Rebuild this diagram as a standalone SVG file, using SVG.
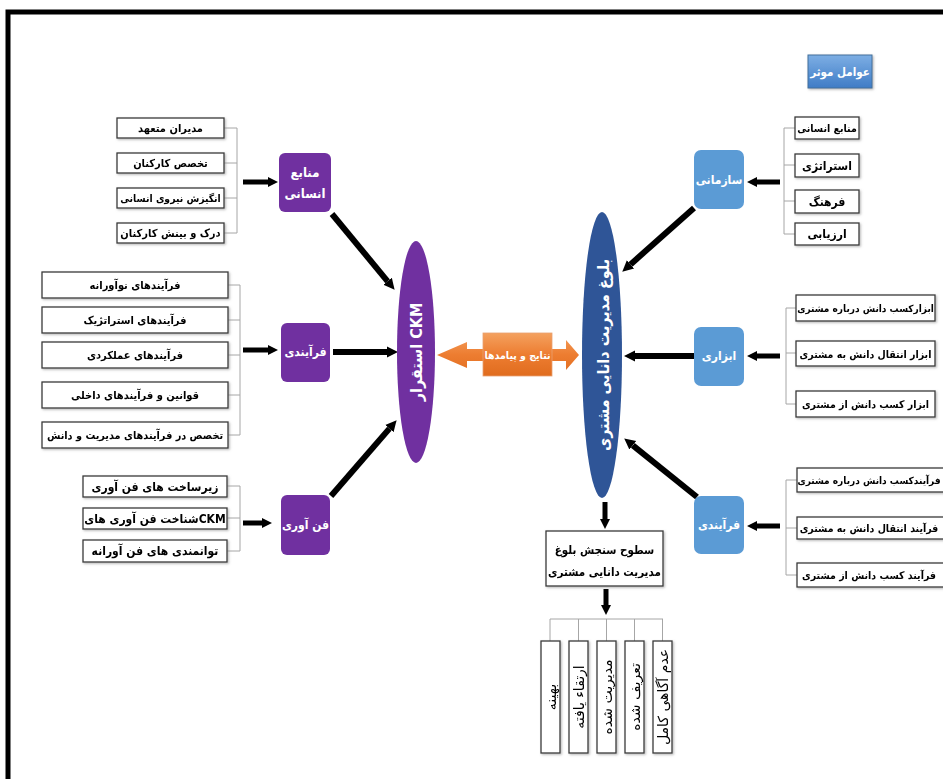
<svg xmlns="http://www.w3.org/2000/svg" width="943" height="779" viewBox="0 0 943 779">
<style>
.bx{fill:#fff;stroke:#3a3a3a;stroke-width:1.3}
.bt{font-family:"DejaVu Sans Condensed","DejaVu Sans",sans-serif;font-stretch:condensed;font-weight:bold;font-size:11px;fill:#000;text-anchor:middle;dominant-baseline:central}
.vt{font-family:"DejaVu Sans",sans-serif;font-size:14px;fill:#000;text-anchor:middle;dominant-baseline:central}
.wt{font-family:"DejaVu Sans Condensed","DejaVu Sans",sans-serif;font-stretch:condensed;font-weight:bold;font-size:12px;fill:#fff;text-anchor:middle;dominant-baseline:central}
.br{fill:none;stroke:#a6a6a6;stroke-width:1}
.ar{stroke:#000;stroke-width:5;fill:none}
.ard{stroke:#000;stroke-width:6;fill:none}
.pu{fill:#7030A0}
.lb{fill:#5B9BD5}
</style>
<defs>
<marker id="ah" viewBox="0 0 10 10" refX="0" refY="5" markerWidth="10" markerHeight="11" markerUnits="userSpaceOnUse" orient="auto"><path d="M0,0 L10,5 L0,10 z" fill="#000"/></marker>
<marker id="ahd" viewBox="0 0 10 10" refX="0" refY="5" markerWidth="11" markerHeight="14" markerUnits="userSpaceOnUse" orient="auto"><path d="M0,0 L10,5 L0,10 z" fill="#000"/></marker>
<linearGradient id="og" x1="0" y1="0" x2="0" y2="1"><stop offset="0" stop-color="#F4A15F"/><stop offset="0.5" stop-color="#ED7D31"/><stop offset="1" stop-color="#E06C1E"/></linearGradient>
<linearGradient id="bg" x1="0" y1="0" x2="0" y2="1"><stop offset="0" stop-color="#7DAEE4"/><stop offset="1" stop-color="#3F7CC6"/></linearGradient>
<filter id="sh" x="-10%" y="-10%" width="130%" height="140%"><feDropShadow dx="1.2" dy="1.2" stdDeviation="0.8" flood-color="#888" flood-opacity="0.6"/></filter>
</defs>
<rect width="943" height="779" fill="#fff"/>
<rect x="8" y="12" width="970" height="800" fill="none" stroke="#000" stroke-width="5"/>

<g id="connectors">
<path class="br" d="M224,128H237M224,163H237M224,198H237M224,233H237M237,128V233"/>
<path class="br" d="M228,285H240M228,320H240M228,355H240M228,395H240M228,435H240M240,285V435"/>
<path class="br" d="M227,486H240M227,518H240M227,551H240M240,486V551"/>
<path class="br" d="M795,128H784M795,165H784M795,201H784M795,234H784M784,128V234"/>
<path class="br" d="M796,308H786M796,353H786M796,404H786M786,308V404"/>
<path class="br" d="M797,480H786M797,528H786M797,575H786M786,480V575"/>
<path class="br" d="M550,619H663M550,619V641M578.5,619V641M606.5,619V641M634.5,619V641M662.5,619V641"/>
<path class="ar" d="M243,182H268" marker-end="url(#ah)"/>
<path class="ar" d="M243,350H268" marker-end="url(#ah)"/>
<path class="ar" d="M243,523H262" marker-end="url(#ah)"/>
<path class="ar" d="M780,182H757" marker-end="url(#ah)"/>
<path class="ar" d="M780,356H757" marker-end="url(#ah)"/>
<path class="ar" d="M780,526H757" marker-end="url(#ah)"/>
<path class="ard" d="M332,214L387.6,281.3" marker-end="url(#ahd)"/>
<path class="ard" d="M333,352H387" marker-end="url(#ahd)"/>
<path class="ard" d="M331,496L389.4,428.6" marker-end="url(#ahd)"/>
<path class="ard" d="M694,208L630.5,264.4" marker-end="url(#ahd)"/>
<path class="ard" d="M694,356H635" marker-end="url(#ahd)"/>
<path class="ard" d="M697,497L632.8,445.3" marker-end="url(#ahd)"/>
<path class="ar" d="M605,502V519" marker-end="url(#ah)"/>
<path class="ar" d="M606,589V605" marker-end="url(#ah)"/>
</g>

<g id="title"><rect x="808" y="55" width="64" height="33" fill="url(#bg)" stroke="#41719C" stroke-width="1" filter="url(#sh)"/><text class="wt" style="font-size:11.5px" x="840" y="72">عوامل موثر</text></g>

<g id="hr-node"><rect class="pu" x="279" y="153" width="52" height="59" rx="6"/><text class="wt" style="font-size:13px" x="305" y="172">منابع</text><text class="wt" style="font-size:13px" x="305" y="193">انسانی</text></g>
<g id="proc-node"><rect class="pu" x="281" y="323" width="49" height="59" rx="6"/><text class="wt" x="305.5" y="352">فرآیندی</text></g>
<g id="tech-node"><rect class="pu" x="281" y="495" width="49" height="60" rx="6"/><text class="wt" x="305.5" y="525">فن آوری</text></g>

<g id="org-node"><rect class="lb" x="694" y="150" width="50" height="59" rx="7"/><text class="wt" x="719" y="180">سازمانی</text></g>
<g id="tool-node"><rect class="lb" x="694" y="327" width="50" height="59" rx="7"/><text class="wt" x="719" y="356">ابزاری</text></g>
<g id="rproc-node"><rect class="lb" x="694" y="496" width="50" height="58" rx="7"/><text class="wt" x="719" y="525">فرآیندی</text></g>

<g id="ckm"><ellipse cx="416" cy="352" rx="19" ry="111" fill="#7030A0"/><text class="wt" style="font-size:16px" transform="translate(416,352) rotate(-90)">استقرار CKM</text></g>
<g id="maturity"><ellipse cx="602" cy="355" rx="20" ry="143" fill="#2F5597"/><text class="wt" style="font-size:16px" transform="translate(603,355) rotate(-90)">بلوغ مدیریت دانایی مشتری</text></g>

<g id="outcomes"><path d="M437,355L467,342V349H483V333H552V349H566V340L579,355L566,370V361H552V376H483V361H467V368Z" fill="url(#og)"/><rect x="483" y="333" width="69" height="43" fill="url(#og)" stroke="#E8A070" stroke-width="0.8"/><text class="wt" style="font-size:10.5px" x="517.5" y="355">نتایج و پیامدها</text></g>

<g id="hr-items" filter="url(#sh)">
<rect class="bx" x="117" y="118" width="107" height="20"/><text class="bt" x="170.5" y="128">مدیران متعهد</text>
<rect class="bx" x="117" y="153" width="107" height="20"/><text class="bt" x="170.5" y="163">تخصص کارکنان</text>
<rect class="bx" x="117" y="188" width="107" height="20"/><text class="bt" style="font-size:10.3px" x="170.5" y="198">انگیزش نیروی انسانی</text>
<rect class="bx" x="117" y="223" width="107" height="20"/><text class="bt" x="170.5" y="233">درک و بینش کارکنان</text>
</g>
<g id="proc-items" filter="url(#sh)">
<rect class="bx" x="42" y="272" width="186" height="26"/><text class="bt" x="135" y="285">فرآیندهای نوآورانه</text>
<rect class="bx" x="42" y="307" width="186" height="26"/><text class="bt" x="135" y="320">فرآیندهای استراتژیک</text>
<rect class="bx" x="42" y="342" width="186" height="26"/><text class="bt" x="135" y="355">فرآیندهای عملکردی</text>
<rect class="bx" x="42" y="382" width="186" height="26"/><text class="bt" x="135" y="395">قوانین و فرآیندهای داخلی</text>
<rect class="bx" x="42" y="422" width="186" height="26"/><text class="bt" style="font-size:10.8px" x="135" y="435">تخصص در فرآیندهای مدیریت و دانش</text>
</g>
<g id="tech-items" filter="url(#sh)">
<rect class="bx" x="83" y="476" width="144" height="21"/><text class="bt" style="font-size:12px" x="155" y="486.5">زیرساخت های فن آوری</text>
<rect class="bx" x="83" y="508" width="144" height="21"/><text class="bt" style="font-size:12px" x="155" y="518.5">شناخت فن آوری هایCKM</text>
<rect class="bx" x="83" y="540" width="144" height="22"/><text class="bt" style="font-size:12px" x="155" y="551">توانمندی های فن آورانه</text>
</g>
<g id="org-items" filter="url(#sh)">
<rect class="bx" x="795" y="117" width="64" height="22"/><text class="bt" style="font-size:10.5px" x="827" y="128">منابع انسانی</text>
<rect class="bx" x="795" y="154" width="64" height="23"/><text class="bt" style="font-size:12px" x="827" y="165.5">استراتژی</text>
<rect class="bx" x="795" y="190" width="64" height="23"/><text class="bt" style="font-size:12px" x="827" y="201.5">فرهنگ</text>
<rect class="bx" x="795" y="223" width="64" height="22"/><text class="bt" style="font-size:12px" x="827" y="234">ارزیابی</text>
</g>
<g id="tool-items" filter="url(#sh)">
<rect class="bx" x="796" y="295" width="139" height="26"/><text class="bt" style="font-size:10px" x="865.5" y="308">ابزارکسب دانش درباره مشتری</text>
<rect class="bx" x="796" y="341" width="139" height="25"/><text class="bt" style="font-size:10.5px" x="865.5" y="353.5">ابزار انتقال دانش به مشتری</text>
<rect class="bx" x="796" y="391" width="139" height="26"/><text class="bt" style="font-size:10.5px" x="865.5" y="404">ابزار کسب دانش از مشتری</text>
</g>
<g id="rproc-items" filter="url(#sh)">
<rect class="bx" x="797" y="468" width="150" height="24"/><text class="bt" style="font-size:10px" x="869" y="480">فرآیندکسب دانش درباره مشتری</text>
<rect class="bx" x="797" y="517" width="150" height="22"/><text class="bt" style="font-size:10.5px" x="869" y="528">فرآیند انتقال دانش به مشتری</text>
<rect class="bx" x="797" y="563" width="150" height="24"/><text class="bt" style="font-size:10.5px" x="869" y="575">فرآیند کسب دانش از مشتری</text>
</g>
<g id="levels" filter="url(#sh)">
<rect class="bx" x="546" y="531" width="117" height="55"/><text class="bt" style="font-size:11.5px" x="604.5" y="550">سطوح سنجش بلوغ</text><text class="bt" style="font-size:11.5px" x="604.5" y="572">مدیریت دانایی مشتری</text>
</g>
<g id="level-items" filter="url(#sh)">
<rect class="bx" x="541" y="641" width="19" height="112"/><text class="vt" transform="translate(550.5,697) rotate(-90)">بهینه</text>
<rect class="bx" x="569" y="641" width="19" height="112"/><text class="vt" transform="translate(578.5,697) rotate(-90)">ارتقاء یافته</text>
<rect class="bx" x="597" y="641" width="19" height="112"/><text class="vt" transform="translate(606.5,697) rotate(-90)">مدیریت شده</text>
<rect class="bx" x="625" y="641" width="19" height="112"/><text class="vt" transform="translate(634.5,697) rotate(-90)">تعریف شده</text>
<rect class="bx" x="653" y="641" width="19" height="112"/><text class="vt" transform="translate(662.5,697) rotate(-90)">عدم آگاهی کامل</text>
</g>
</svg>
